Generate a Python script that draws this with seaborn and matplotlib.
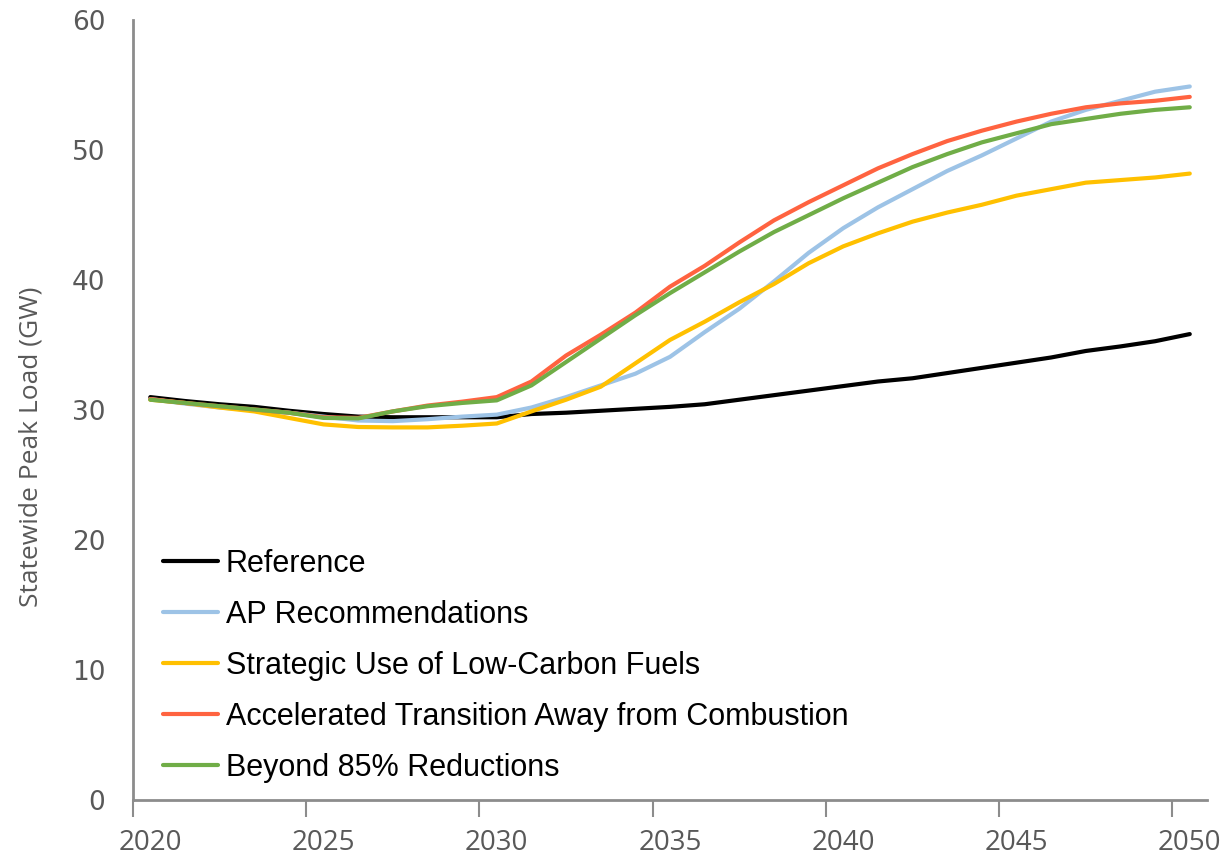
import numpy as np
import pandas as pd
import seaborn as sns
import matplotlib.pyplot as plt
from matplotlib.ticker import FixedLocator

# Data (GW, 2020-2050)
years = list(range(2020, 2051))
reference = [31.0, 30.7, 30.45, 30.25, 29.95, 29.7, 29.5, 29.45, 29.45, 29.45, 29.45,
             29.7, 29.8, 29.95, 30.1, 30.25, 30.45, 30.8, 31.15, 31.5, 31.85,
             32.2, 32.45, 32.85, 33.25, 33.65, 34.05, 34.55, 34.9, 35.3, 35.85]
ap_recs = [30.85, 30.5, 30.2, 30.0, 29.8, 29.5, 29.2, 29.15, 29.3, 29.5, 29.65,
           30.2, 31.0, 31.9, 32.8, 34.1, 36.0, 37.8, 39.9, 42.1, 44.0,
           45.6, 47.0, 48.4, 49.6, 50.9, 52.2, 53.1, 53.8, 54.5, 54.9]
low_carbon = [30.8, 30.55, 30.2, 29.9, 29.4, 28.9, 28.7, 28.67, 28.67, 28.8, 28.97,
              29.9, 30.8, 31.8, 33.6, 35.4, 36.8, 38.3, 39.7, 41.3, 42.6,
              43.6, 44.5, 45.2, 45.8, 46.5, 47.0, 47.5, 47.7, 47.9, 48.2]
accelerated = [30.85, 30.55, 30.3, 30.05, 29.8, 29.45, 29.4, 29.9, 30.35, 30.65, 31.0,
               32.2, 34.2, 35.8, 37.5, 39.5, 41.1, 42.9, 44.6, 46.0, 47.3,
               48.6, 49.7, 50.7, 51.5, 52.2, 52.8, 53.3, 53.6, 53.8, 54.1]
beyond85 = [30.8, 30.55, 30.3, 30.05, 29.8, 29.4, 29.36, 29.9, 30.3, 30.55, 30.75,
            31.9, 33.7, 35.5, 37.3, 39.0, 40.6, 42.2, 43.7, 45.0, 46.3,
            47.5, 48.7, 49.7, 50.6, 51.3, 52.0, 52.4, 52.8, 53.1, 53.3]

scenarios = ["Reference", "AP Recommendations", "Strategic Use of Low-Carbon Fuels",
             "Accelerated Transition Away from Combustion", "Beyond 85% Reductions"]
colors = ["#000000", "#9DC3E6", "#FFC000", "#FF6340", "#70AD47"]
tick_years = [2020, 2025, 2030, 2035, 2040, 2045, 2050]

series = [reference, ap_recs, low_carbon, accelerated, beyond85]
df = pd.concat([pd.DataFrame({"year": years, "load": s, "scenario": name})
                for name, s in zip(scenarios, series)])

sns.set_style("white")
plt.rcParams['font.family'] = ['Liberation Sans', 'DejaVu Sans']

fig = plt.figure(figsize=(12.22, 8.56), dpi=100)
ax = fig.add_axes([0.1088, 0.0654, 0.879, 0.911])

sns.lineplot(data=df, x="year", y="load", hue="scenario", hue_order=scenarios,
             palette=colors, linewidth=3, ax=ax)

ax.set_xlim(2019.5, 2050.5)
ax.set_ylim(0, 60)
ax.set_xlabel("")
ax.set_ylabel("Statewide Peak Load (GW)", fontsize=19, color="#595959",
              family="Open Sans")
ax.yaxis.set_label_coords(-0.083, 0.4526)

ax.set_yticks(range(0, 61, 10))
ax.set_xticks(tick_years)
ax.xaxis.set_minor_locator(FixedLocator([y - 0.5 for y in tick_years]))
ax.tick_params(axis="y", length=0, pad=20, labelsize=19, labelcolor="#595959")
for lab in ax.get_yticklabels():
    lab.set_family("DejaVu Sans")
ax.tick_params(axis="x", which="major", length=0, pad=21, labelsize=20,
               labelcolor="#595959")
for lab in ax.get_xticklabels():
    lab.set_family("Open Sans")
ax.tick_params(axis="x", which="minor", bottom=True, length=12, width=1.5,
               color="#8C8C8C")

for side in ["top", "right"]:
    ax.spines[side].set_visible(False)
for side in ["left", "bottom"]:
    ax.spines[side].set_color("#8C8C8C")
    ax.spines[side].set_linewidth(2)

leg = ax.legend(loc="lower left", bbox_to_anchor=(0.0023, -0.0136), frameon=False,
                fontsize=22, handlelength=1.8, handletextpad=0.26, labelspacing=0.69,
                labelcolor="black")
for line in leg.get_lines():
    line.set_linewidth(3)

fig.savefig("out.png", dpi=100)
